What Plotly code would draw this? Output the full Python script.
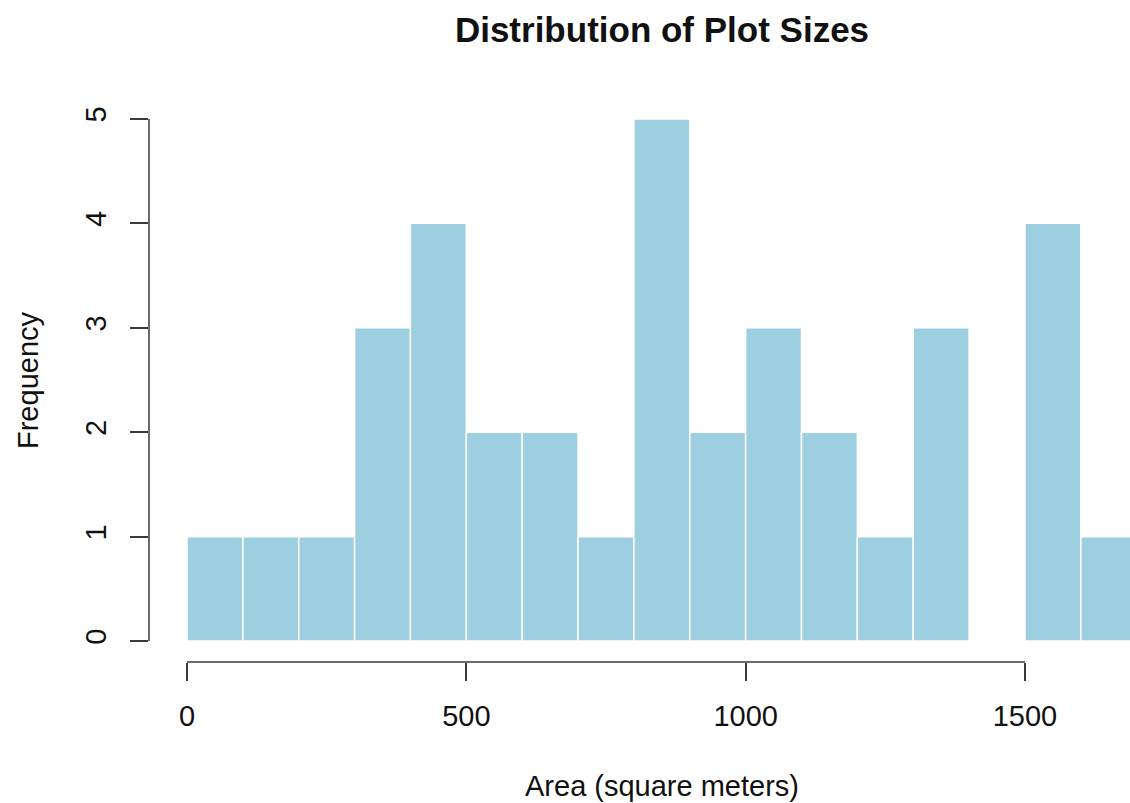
import plotly.graph_objects as go

bin_edges = [0, 100, 200, 300, 400, 500, 600, 700, 800, 900, 1000, 1100, 1200, 1300, 1400, 1500, 1600, 1700]
counts = [1, 1, 1, 3, 4, 2, 2, 1, 5, 2, 3, 2, 1, 3, 0, 4, 1]
x_ticks = [0, 500, 1000, 1500]
y_ticks = [0, 1, 2, 3, 4, 5]

centers = [(a + b) / 2 for a, b in zip(bin_edges[:-1], bin_edges[1:])]
widths = [b - a for a, b in zip(bin_edges[:-1], bin_edges[1:])]

FONT = "Liberation Sans, Arial, sans-serif"
AXC = "#3a3a3a"

fig = go.Figure(go.Bar(
    x=centers, y=counts, width=widths,
    marker=dict(color="#9ecfe0", line=dict(color="white", width=1.5)),
    hoverinfo="x+y",
))

fig.update_layout(
    width=1130, height=803,
    margin=dict(l=149, r=0, t=98, b=141),
    paper_bgcolor="white", plot_bgcolor="white",
    showlegend=False,
    font=dict(family=FONT, size=29, color="#111"),
    title=dict(text="<b>Distribution of Plot Sizes</b>", x=662/1130, xref="container",
               xanchor="center", y=1-30/803, yref="container", yanchor="middle",
               font=dict(size=35, color="#111", family=FONT)),
    xaxis=dict(range=[-68, 1688], tickvals=x_ticks, ticktext=[str(v) for v in x_ticks],
               showgrid=False, zeroline=False, showline=False,
               ticks="outside", ticklen=18, tickwidth=1.5, tickcolor=AXC,
               ticklabelstandoff=10, tickfont=dict(size=29, color="#111")),
    yaxis=dict(range=[-0.2, 5.2], tickvals=y_ticks, ticktext=[str(v) for v in y_ticks],
               showgrid=False, zeroline=False, showline=False,
               ticks="outside", ticklen=18, tickwidth=1.5, tickcolor=AXC,
               tickangle=-90, ticklabelstandoff=12, tickfont=dict(size=29, color="#111")),
    shapes=[
        dict(type="line", xref="x", yref="paper", x0=x_ticks[0], x1=x_ticks[-1], y0=0, y1=0,
             line=dict(color=AXC, width=1.5)),
        dict(type="line", xref="paper", yref="y", x0=0, x1=0, y0=y_ticks[0], y1=y_ticks[-1],
             line=dict(color=AXC, width=1.5)),
    ],
    annotations=[
        dict(text="Area (square meters)", xref="paper", yref="paper",
             x=(662-149)/981, y=(662-786)/564, xanchor="center", yanchor="middle",
             showarrow=False, font=dict(size=29, color="#111", family=FONT)),
        dict(text="Frequency", xref="paper", yref="paper",
             x=(28-149)/981, y=0.5, xanchor="center", yanchor="middle", textangle=-90,
             showarrow=False, font=dict(size=29, color="#111", family=FONT)),
    ],
)

fig.write_html("out.html", config={"displayModeBar": False},
               post_script="document.body.style.margin='0';document.body.style.overflow='hidden';")
